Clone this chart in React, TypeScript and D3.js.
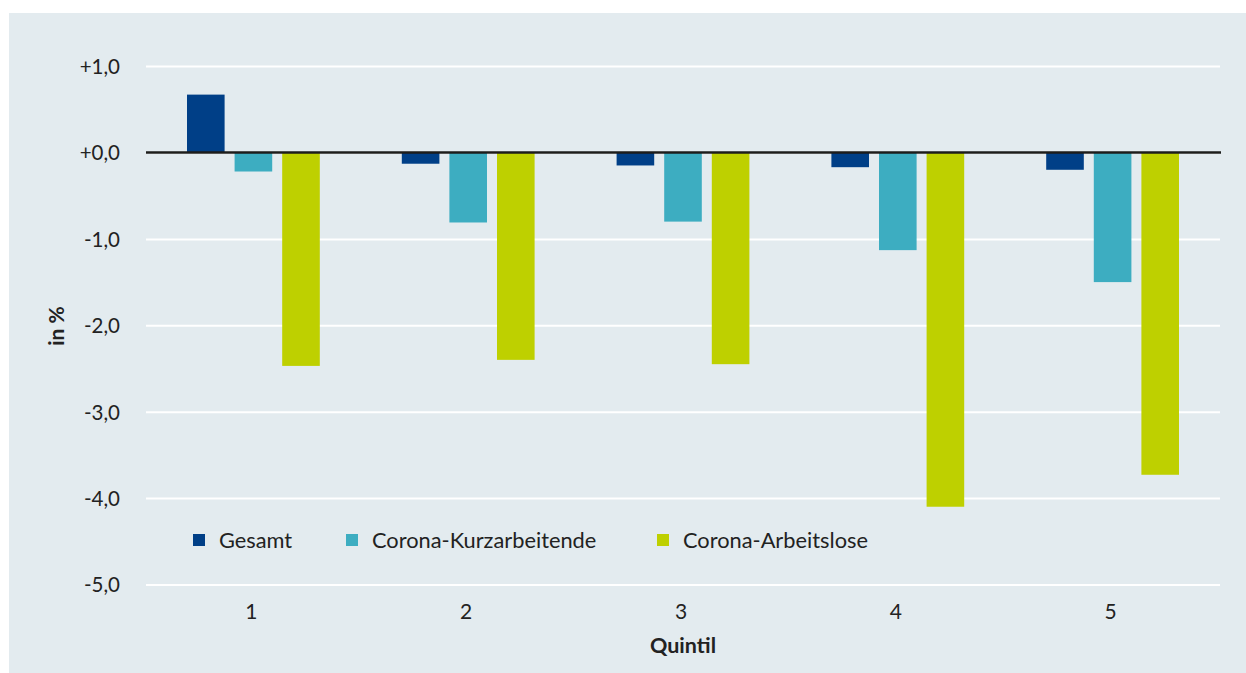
import React, { useEffect, useRef } from 'react';
import * as d3 from 'd3';

// data
const quintile = ['1', '2', '3', '4', '5'];
const seriesNames = ['Gesamt', 'Corona-Kurzarbeitende', 'Corona-Arbeitslose'];
const gesamt = [0.67, -0.13, -0.15, -0.17, -0.2];
const kurzarbeit = [-0.22, -0.81, -0.8, -1.13, -1.5];
const arbeitslos = [-2.47, -2.4, -2.45, -4.1, -3.73];
const yTicks = [1, 0, -1, -2, -3, -4, -5];
const colors = ['#003f87', '#3dadc1', '#bed000'];

const W = 1246;
const H = 673;
const font = 'Lato, "Open Sans", sans-serif';

const fmt = (v: number) => {
  const s = Math.abs(v).toFixed(1).replace('.', ',');
  return (v >= 0 ? '+' : '-') + s;
};

const App = () => {
  const ref = useRef<SVGSVGElement | null>(null);

  useEffect(() => {
    const svg = d3.select(ref.current);
    svg.selectAll('*').remove();

    // panel background
    svg.append('rect')
      .attr('x', 9).attr('y', 13)
      .attr('width', W - 9).attr('height', H - 13)
      .attr('fill', '#e3ebef');

    const x0 = d3.scaleBand<string>().domain(quintile).range([146, 1220]);
    const x1 = d3.scaleBand<string>().domain(seriesNames).range([-66.4, 66.4]).paddingInner(0.21);
    const y = d3.scaleLinear().domain([-5, 1]).range([584.5, 66.1]);

    // gridlines + y labels
    const yAxis = d3.axisLeft(y)
      .tickValues(yTicks)
      .tickSize(-(1220 - 146))
      .tickPadding(26)
      .tickFormat(d => fmt(+d));

    const gy = svg.append('g')
      .attr('transform', 'translate(146,0)')
      .call(yAxis);
    gy.select('.domain').remove();
    gy.selectAll('.tick line')
      .attr('stroke', '#ffffff')
      .attr('stroke-width', 2);
    gy.selectAll('.tick text')
      .attr('fill', '#222')
      .attr('font-family', font)
      .attr('font-size', 20.5)
      .attr('dy', '0.36em');

    const rows = quintile.map((q, i) => ({
      q,
      vals: [gesamt[i], kurzarbeit[i], arbeitslos[i]]
    }));

    const groups = svg.append('g')
      .selectAll('g')
      .data(rows)
      .join('g')
      .attr('transform', d => `translate(${x0(d.q)! + x0.bandwidth() / 2},0)`);

    groups.selectAll('rect')
      .data(d => d.vals.map((v, j) => ({ v, name: seriesNames[j], j })))
      .join('rect')
      .attr('x', d => x1(d.name)!)
      .attr('width', x1.bandwidth())
      .attr('y', d => y(Math.max(0, d.v)))
      .attr('height', d => Math.abs(y(d.v) - y(0)))
      .attr('fill', d => colors[d.j]);

    // zero line
    svg.append('line')
      .attr('x1', 146).attr('x2', 1221)
      .attr('y1', y(0)).attr('y2', y(0))
      .attr('stroke', '#1d1d1b')
      .attr('stroke-width', 2.5);

    // x labels
    const xAxis = d3.axisBottom(x0).tickSize(0).tickPadding(0);
    const gx = svg.append('g')
      .attr('transform', 'translate(-2,619)')
      .call(xAxis);
    gx.select('.domain').remove();
    gx.selectAll('.tick text')
      .attr('dy', 0)
      .attr('fill', '#222')
      .attr('font-family', font)
      .attr('font-size', 21);

    svg.append('text')
      .attr('x', 683).attr('y', 653)
      .attr('text-anchor', 'middle')
      .attr('font-family', font)
      .attr('font-weight', 'bold')
      .attr('font-size', 21.5)
      .attr('fill', '#222')
      .text('Quintil');

    svg.append('text')
      .attr('transform', 'translate(64,326) rotate(-90)')
      .attr('text-anchor', 'middle')
      .attr('font-family', font)
      .attr('font-weight', 'bold')
      .attr('font-size', 21)
      .attr('fill', '#222')
      .text('in %');

    // legend
    const legendX = [193, 346, 657];
    const lg = svg.append('g')
      .selectAll('g')
      .data(seriesNames)
      .join('g')
      .attr('transform', (d, i) => `translate(${legendX[i]},534)`);
    lg.append('rect')
      .attr('width', 12).attr('height', 12)
      .attr('fill', (d, i) => colors[i]);
    lg.append('text')
      .attr('x', 26).attr('y', 6)
      .attr('dy', '0.36em')
      .attr('font-family', font)
      .attr('font-size', 21.8)
      .attr('fill', '#222')
      .text(d => d);
  }, []);

  return (
    <div style={{ position: 'absolute', left: 0, top: 0 }}>
      <svg ref={ref} width={W} height={H} style={{ display: 'block' }} />
    </div>
  );
};

export default App;
